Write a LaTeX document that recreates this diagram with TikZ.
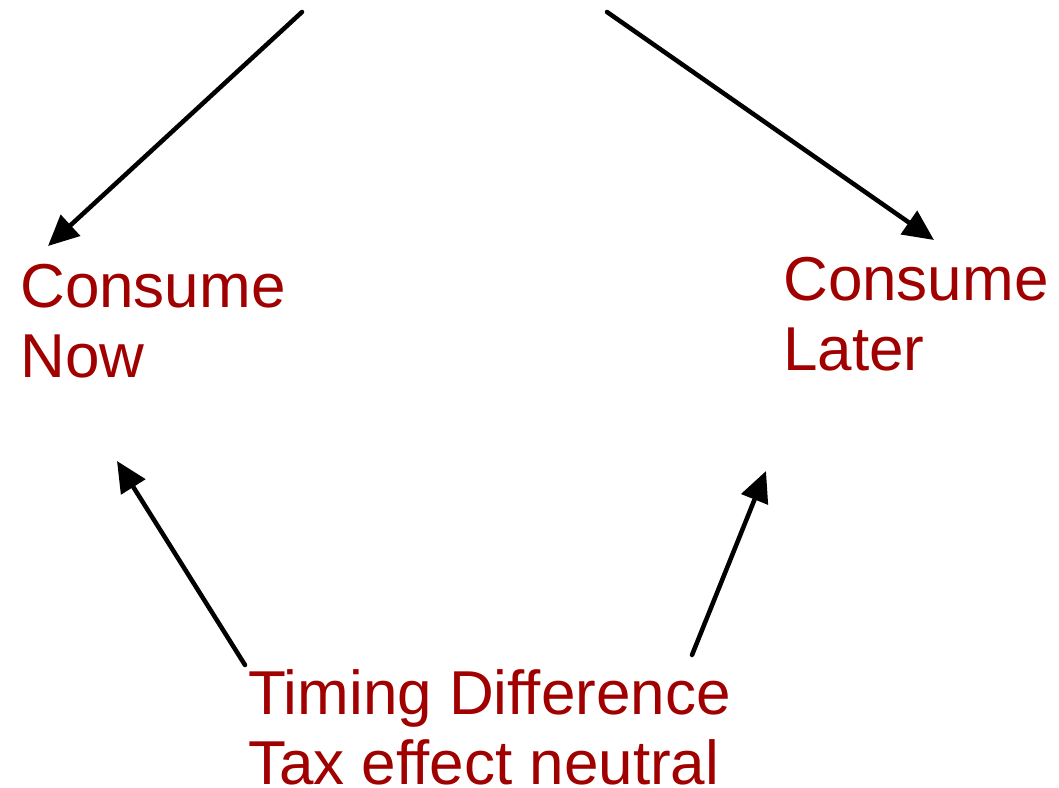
\documentclass[tikz,border=0pt]{standalone}
\usepackage{fontspec}
\setmainfont{Liberation Sans}
\usetikzlibrary{arrows.meta}
\definecolor{darkred}{RGB}{160,0,0}
\tikzset{
  label text/.style={text=darkred, font=\fontsize{46.5}{52}\selectfont, align=left, inner sep=0pt, anchor=base west},
  flow/.style={line width=3.4pt, line cap=round, -{Triangle[length=23pt,width=21pt]}}
}
\begin{document}
\begin{tikzpicture}[x=0.75pt, y=-0.75pt]
    \useasboundingbox (0,0) rectangle (1059,788);
    \node[label text] (now) at (20,377) {Consume\\Now};
    \node[label text] (later) at (783,370) {Consume\\Later};
    \node[label text] (timing) at (248,784) {Timing Difference\\Tax effect neutral};
    \coordinate (topleft) at (302,12);
    \coordinate (topright) at (607,12);
    \coordinate (nowtip) at (48,246);
    \coordinate (latertip) at (934,240);
    \coordinate (nowfoot) at (117,461);
    \coordinate (laterfoot) at (766,471);
    \coordinate (timingleft) at (245,665);
    \coordinate (timingright) at (692,655);
    \draw[flow] (topleft) -- (nowtip);
    \draw[flow] (topright) -- (latertip);
    \draw[flow] (timingleft) -- (nowfoot);
    \draw[flow] (timingright) -- (laterfoot);
\end{tikzpicture}
\end{document}
